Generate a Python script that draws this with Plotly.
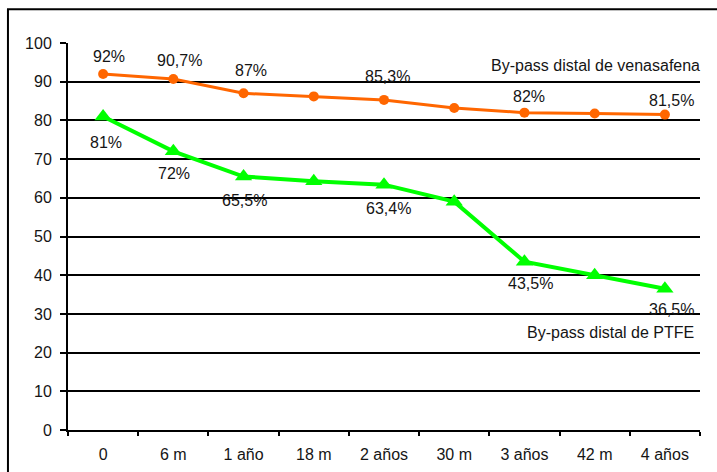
import plotly.graph_objects as go

# Follow-up points
periods = ["0", "6 m", "1 año", "18 m", "2 años", "30 m", "3 años", "42 m", "4 años"]

# Patency (%) of each graft type
vena_safena = [92, 90.7, 87, 86.2, 85.3, 83.2, 82, 81.8, 81.5]
ptfe = [81, 72, 65.5, 64.3, 63.4, 59, 43.5, 40, 36.5]

# Points that carry a value label
vena_labelled = [0, 1, 2, 4, 6, 8]
ptfe_labelled = [0, 1, 2, 4, 6, 8]

# Label offsets (px) relative to each point: (xshift, yshift)
vena_offsets = [(6, 17), (6, 18), (7, 23), (3, 23), (5, 16), (7, 14)]
ptfe_offsets = [(3, -26), (1, -22), (1, -24), (4, -24), (6, -22), (7, -21)]

FONT = "Liberation Sans, Arial, sans-serif"
FS = 16
TXT = "#151515"
ORANGE = "#FF6600"
GREEN = "#00FF00"


def pct(v):
    return f"{v:g}".replace(".", ",") + "%"


fig = go.Figure()

fig.add_trace(go.Scatter(
    x=periods, y=vena_safena, mode="lines+markers",
    line=dict(color=ORANGE, width=3),
    marker=dict(symbol="circle", size=10, color=ORANGE),
    name="By-pass distal de venasafena", showlegend=False,
))
fig.add_trace(go.Scatter(
    x=periods, y=ptfe, mode="lines+markers",
    line=dict(color=GREEN, width=4),
    marker=dict(symbol="triangle-up", size=15, color=GREEN),
    name="By-pass distal de PTFE", showlegend=False,
))

annotations = []
for idx, (dx, dy) in zip(vena_labelled, vena_offsets):
    annotations.append(dict(
        x=periods[idx], y=vena_safena[idx], xref="x", yref="y",
        text=pct(vena_safena[idx]), showarrow=False,
        xshift=dx, yshift=dy, font=dict(family=FONT, size=FS, color=TXT),
    ))
for idx, (dx, dy) in zip(ptfe_labelled, ptfe_offsets):
    annotations.append(dict(
        x=periods[idx], y=ptfe[idx], xref="x", yref="y",
        text=pct(ptfe[idx]), showarrow=False,
        xshift=dx, yshift=dy, font=dict(family=FONT, size=FS, color=TXT),
    ))

# Series names written inside the plot
annotations.append(dict(
    x=1.003, y=94.2, xref="paper", yref="y", xanchor="right", yanchor="middle",
    text="By-pass distal de venasafena", showarrow=False,
    font=dict(family=FONT, size=FS, color=TXT),
))
annotations.append(dict(
    x=0.994, y=25.2, xref="paper", yref="y", xanchor="right", yanchor="middle",
    text="By-pass distal de PTFE", showarrow=False,
    font=dict(family=FONT, size=FS, color=TXT),
))

fig.update_layout(
    width=717, height=472,
    margin=dict(l=68, r=17, t=43, b=42),
    paper_bgcolor="white", plot_bgcolor="white",
    font=dict(family=FONT, size=FS, color=TXT),
    annotations=annotations,
    shapes=[dict(
        type="rect", xref="paper", yref="paper",
        x0=-0.095, x1=1.06, y0=-0.2, y1=1.087,
        line=dict(color="black", width=2), fillcolor="rgba(0,0,0,0)",
        layer="below",
    )],
)

fig.update_xaxes(
    type="category", categoryorder="array", categoryarray=periods,
    showline=True, linecolor="black", linewidth=2,
    ticks="outside", tickson="boundaries", ticklen=4, tickcolor="black", tickwidth=2,
    showgrid=False, ticklabelstandoff=9, automargin=False,
    tickfont=dict(family=FONT, size=FS, color=TXT),
    range=[-0.5, 8.5],
)
fig.update_yaxes(
    range=[0, 100], dtick=10, tick0=0,
    showline=True, linecolor="black", linewidth=2,
    ticks="outside", ticklen=6, tickcolor="black", tickwidth=2,
    showgrid=True, gridcolor="black", gridwidth=2,
    zeroline=False, ticklabelstandoff=5, automargin=False,
    tickfont=dict(family=FONT, size=FS, color=TXT),
)

fig.write_html("out.html")
